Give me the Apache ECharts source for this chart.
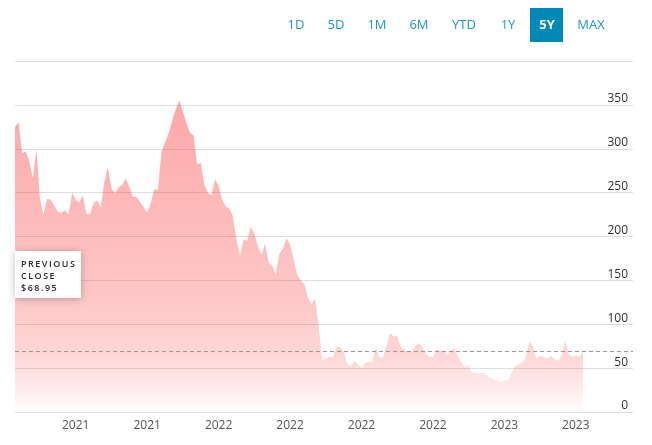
<!DOCTYPE html>
<html>
<head>
<meta charset="utf-8">
<script src="https://cdn.jsdelivr.net/npm/echarts@6/dist/echarts.min.js"></script>
<style>
html,body{margin:0;padding:0;background:#fff;}
#chart{width:652px;height:445px;}
</style>
</head>
<body>
<div id="chart"></div>
<script>
// ---- data ----
const prices = [
  325,330,295,297,286,266,300,242,225,243,
  242,235,228,227,230,225,250,242,239,247,
  226,225,238,241,233,262,279,255,249,256,
  259,266,257,245,245,239,234,227,238,254,
  253,296,307,317,332,345,355,342,329,318,
  315,282,284,259,250,247,265,258,242,234,
  232,223,196,178,197,195,211,203,189,179,
  192,170,167,156,180,186,198,191,174,156,
  150,146,130,123,129,98,59,61,63,62,
  74,74,69,55,52,58,55,50,56,57,
  57,74,62,62,76,90,86,87,74,71,
  69,68,75,78,75,66,63,63,71,70,
  70,65,70,73,63,57,51,53,45,44,
  44,45,42,39,37,36,34,36,36,45,
  52,54,56,62,80,75,61,64,63,61,
  64,60,58,64,81,66,63,64,63,69
];
const previousClose = 68.95;
const axisSlots = 174;                 // number of category slots on the x axis
const xLabels = ['2021','2021','2022','2022','2022','2022','2023','2023'];
const xLabelIdx = [17,37,57,77,97,117,137,157];
const yTicks = [0,50,100,150,200,250,300,350];
const rangeButtons = ['1D','5D','1M','6M','YTD','1Y','5Y','MAX'];
const rangeButtonX = [296,336,377,419,464,508,547,591];
const activeRange = '5Y';

const categories = Array.from({length: axisSlots}, (_, i) => String(i));

const chart = echarts.init(document.getElementById('chart'), null, {renderer: 'canvas'});

const thin = '\u2009';
const spaced = s => s.split('').join(thin);

const graphics = [];
rangeButtons.forEach((b, i) => {
  const active = b === activeRange;
  if (active) {
    graphics.push({type: 'rect', left: rangeButtonX[i] - 17, top: 8,
      shape: {width: 33, height: 34}, style: {fill: '#0089b7'}, silent: true});
  }
  graphics.push({type: 'text', x: rangeButtonX[i], y: 25,
    style: {text: b, fill: active ? '#ffffff' : '#1e98c6', font: (active ? 'bold ' : '') + '13px "Open Sans", sans-serif',
      textAlign: 'center', textVerticalAlign: 'middle'}, silent: true});
});
graphics.push({type: 'rect', left: 15, top: 251, z: 100,
  shape: {width: 66, height: 47},
  style: {fill: '#fff', shadowBlur: 8, shadowColor: 'rgba(0,0,0,0.25)', shadowOffsetX: 0, shadowOffsetY: 1}, silent: true});
graphics.push({type: 'text', x: 21, y: 258, z: 101,
  style: {text: spaced('PREVIOUS') + '\n' + spaced('CLOSE') + '\n' + spaced('$' + previousClose.toFixed(2)),
    fill: '#2b2b2b', font: '600 9px "Open Sans", sans-serif', lineHeight: 12, textVerticalAlign: 'top'}, silent: true});

chart.setOption({
  animation: false,
  grid: {left: 15, right: 19, top: 61, bottom: 33},
  xAxis: {
    type: 'category',
    data: categories,
    boundaryGap: false,
    axisLine: {show: false},
    axisTick: {show: false},
    splitLine: {show: false},
    axisLabel: {
      interval: (idx) => xLabelIdx.indexOf(idx) >= 0,
      formatter: (v, idx) => { const k = xLabelIdx.indexOf(Number(v)); return k >= 0 ? xLabels[k] : ''; },
      color: '#555', fontSize: 12, fontFamily: '"Open Sans", sans-serif', margin: 8
    }
  },
  yAxis: {
    type: 'value', min: 0, max: 400, interval: 50, position: 'right',
    axisLine: {show: false}, axisTick: {show: false},
    splitLine: {lineStyle: {color: '#dedede', width: 1}},
    axisLabel: {
      inside: true, margin: 5, verticalAlign: 'bottom',
      formatter: v => yTicks.indexOf(v) >= 0 ? String(v) : '',
      color: '#333', fontSize: 12, fontFamily: '"Open Sans", sans-serif'
    }
  },
  series: [{
    type: 'line',
    data: prices,
    showSymbol: false,
    symbol: 'none',
    lineStyle: {width: 0},
    areaStyle: {
      color: new echarts.graphic.LinearGradient(0, 0, 0, 1, [
        {offset: 0, color: 'rgba(250,60,60,0.64)'},
        {offset: 0.64, color: 'rgba(252,65,65,0.42)'},
        {offset: 0.81, color: 'rgba(252,70,70,0.32)'},
        {offset: 0.93, color: 'rgba(252,70,70,0.15)'},
        {offset: 1, color: 'rgba(252,70,70,0.0)'}
      ])
    },
    markLine: {
      silent: true, symbol: 'none', label: {show: false},
      lineStyle: {type: [4, 3], color: '#9a9a9a', width: 1},
      data: [{yAxis: previousClose}]
    }
  }],
  graphic: graphics
});
</script>
</body>
</html>
